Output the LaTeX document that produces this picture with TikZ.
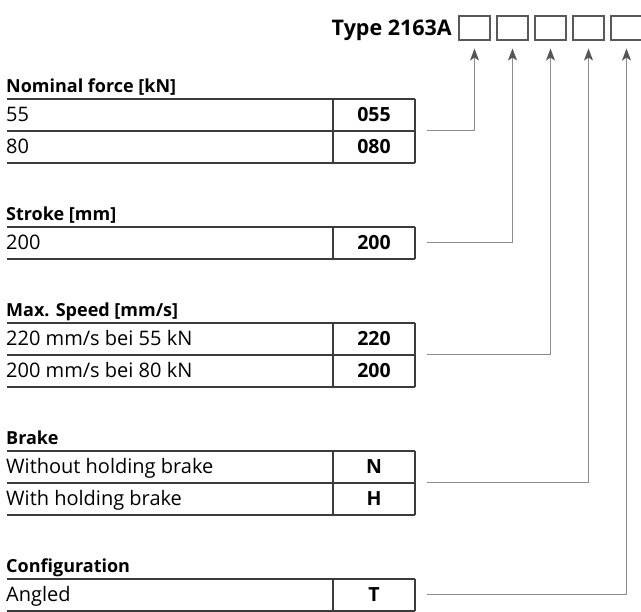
\documentclass[tikz,border=0pt]{standalone}
\usepackage{fontspec}
\setmainfont{Open Sans}
\usetikzlibrary{arrows.meta,positioning,calc}

\definecolor{rulegray}{HTML}{3C3C3C}
\definecolor{leadgray}{HTML}{8C8C8C}
\definecolor{tipgray}{HTML}{555555}

\tikzset{
  tabline/.style={draw=rulegray, line width=1.2pt},
  heading/.style={anchor=base west, inner sep=0pt, font=\fontsize{18}{21}\selectfont\bfseries},
  entry/.style={anchor=base west, inner sep=0pt, font=\fontsize{20}{23}\selectfont},
  code/.style={anchor=base, inner sep=0pt, font=\fontsize{19.5}{22}\selectfont\bfseries},
  codebox/.style={draw=black!65, line width=1.1pt, minimum width=31pt, minimum height=24pt, inner sep=0pt},
  leader/.style={draw=leadgray, line width=1pt, -{Stealth[length=12pt, width=9pt, inset=3pt, color=tipgray]}},
}

\begin{document}
\begin{tikzpicture}[x=1pt, y=-1pt]
    \useasboundingbox (0,0) rectangle (641,612);

    % type key
    \node[anchor=base east, inner sep=0pt, font=\fontsize{21.5}{24}\selectfont\bfseries] (type) at (452,36) {Type 2163A};
    \node[codebox] (b1) at (474.5,28) {};
    \node[codebox] (b2) at (512.5,28) {};
    \node[codebox] (b3) at (550.5,28) {};
    \node[codebox] (b4) at (588.5,28) {};
    \node[codebox] (b5) at (626.5,28) {};

    % nominal force
    \node[heading] (force) at (6,93) {Nominal force [kN]};
    \node[entry] (force55) at (6,122) {55};
    \node[code] (c055) at (374,122) {055};
    \node[entry] (force80) at (6,154) {80};
    \node[code] (c080) at (374,154) {080};
    \draw[tabline] (7,99) -- (415,99) (7,131) -- (415,131) (7,163) -- (415,163);
    \draw[tabline] (333,99) -- (333,163) (415,99) -- (415,163);

    % stroke
    \node[heading] (stroke) at (6,221) {Stroke [mm]};
    \node[entry] (stroke200) at (6,250) {200};
    \node[code] (c200s) at (374,250) {200};
    \draw[tabline] (7,227) -- (415,227) (7,259) -- (415,259);
    \draw[tabline] (333,227) -- (333,259) (415,227) -- (415,259);

    % max. speed
    \node[heading] (speed) at (6,317) {Max. Speed [mm/s]};
    \node[entry] (speed220) at (6,346) {220 mm/s bei 55 kN};
    \node[code] (c220) at (374,346) {220};
    \node[entry] (speed200) at (6,378) {200 mm/s bei 80 kN};
    \node[code] (c200v) at (374,378) {200};
    \draw[tabline] (7,323) -- (415,323) (7,355) -- (415,355) (7,387) -- (415,387);
    \draw[tabline] (333,323) -- (333,387) (415,323) -- (415,387);

    % brake
    \node[heading] (brake) at (6,445) {Brake};
    \node[entry] (brakeN) at (6,474) {Without holding brake};
    \node[code] (cN) at (374,474) {N};
    \node[entry] (brakeH) at (6,506) {With holding brake};
    \node[code] (cH) at (374,506) {H};
    \draw[tabline] (7,451) -- (415,451) (7,483) -- (415,483) (7,515) -- (415,515);
    \draw[tabline] (333,451) -- (333,515) (415,451) -- (415,515);

    % configuration
    \node[heading] (config) at (6,573) {Configuration};
    \node[entry] (configT) at (6,602) {Angled};
    \node[code] (cT) at (374,602) {T};
    \draw[tabline] (7,579) -- (415,579) (7,611) -- (415,611);
    \draw[tabline] (333,579) -- (333,611) (415,579) -- (415,611);

    % leaders
    \coordinate (forceout) at (427,131);
    \coordinate (strokeout) at (427,243);
    \coordinate (speedout) at (427,355);
    \coordinate (brakeout) at (427,483);
    \coordinate (configout) at (427,595);
    \draw[leader] (forceout) -| ([yshift=-8pt]b1.south);
    \draw[leader] (strokeout) -| ([yshift=-8pt]b2.south);
    \draw[leader] (speedout) -| ([yshift=-8pt]b3.south);
    \draw[leader] (brakeout) -| ([yshift=-8pt]b4.south);
    \draw[leader] (configout) -| ([yshift=-8pt]b5.south);
\end{tikzpicture}
\end{document}
